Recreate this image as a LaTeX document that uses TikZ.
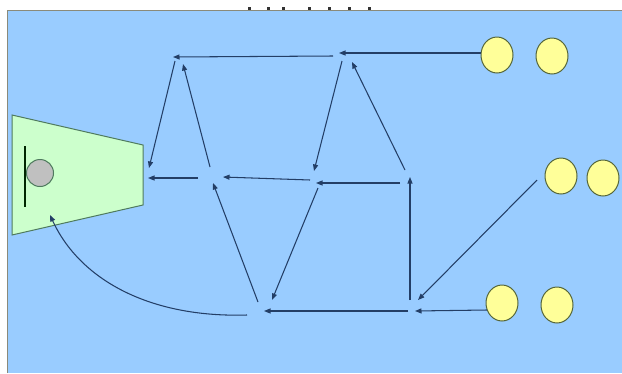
\documentclass[tikz,border=0pt]{standalone}
\usetikzlibrary{arrows.meta,shapes.geometric}
\definecolor{bgblue}{HTML}{99CCFF}
\definecolor{trapfill}{HTML}{CCFFCC}
\definecolor{trapline}{HTML}{4F7A5E}
\definecolor{ballfill}{HTML}{FFFF99}
\definecolor{ballline}{HTML}{55663A}
\definecolor{greyball}{HTML}{C0C0C0}
\definecolor{arrowcol}{HTML}{233E66}
\definecolor{framecol}{HTML}{8A8A7A}
\tikzset{
  flow/.style={draw=arrowcol, line width=1.05pt, -{Triangle[length=6.5pt,width=5pt]}},
  ball/.style={ellipse, draw=ballline, line width=1pt, fill=ballfill, minimum width=32pt, minimum height=36pt, inner sep=0pt}
}
\begin{document}
\begin{tikzpicture}[x=1pt,y=-1pt]
\useasboundingbox (0,0) rectangle (622,373);
\fill[white] (0,0) rectangle (622,373);
% background
\fill[bgblue] (7,10) rectangle (622,373);
\draw[framecol, line width=1pt] (7,373) -- (7,10) -- (622,10);
% remnants at top
\foreach \xx in {249,268,283,309,329,349,369}
  \fill[black!80] (\xx-1.5,7) rectangle (\xx+1.5,9.5);
% trapezoid goal
\draw[trapline, line width=1pt, fill=trapfill] (12,115) -- (143,145) -- (143,205) -- (12,235) -- cycle;
\draw[black!85!green, line width=2.4pt] (25,146) -- (25,207);
\node[circle, draw=trapline, line width=1pt, fill=greyball, minimum size=27pt, inner sep=0pt] (gb) at (40,173) {};
% balls
\node[ball] (t1) at (497,55) {};
\node[ball] (t2) at (552,56) {};
\node[ball] (m1) at (561,176) {};
\node[ball] (m2) at (603,178) {};
\node[ball] (b1) at (502,303) {};
\node[ball] (b2) at (557,305) {};
% endpoint coordinates
\coordinate (t1out) at (481,53);
\coordinate (b1out) at (487,310);
\coordinate (p1tip) at (173,57);
\coordinate (p1up) at (183,64);
\coordinate (p1out) at (175,61);
\coordinate (p2tip) at (339,53);
\coordinate (p2out) at (333,56);
\coordinate (p2up) at (352,62);
\coordinate (p2down) at (342,61);
\coordinate (goalA) at (149,168);
\coordinate (goalB) at (148,178);
\coordinate (goalC) at (50,215);
\coordinate (m1out) at (198,178);
\coordinate (m1tip) at (223,177);
\coordinate (m1low) at (213,183);
\coordinate (m1up) at (210,167);
\coordinate (m2tip) at (314,171);
\coordinate (m2out) at (310,180);
\coordinate (m2in) at (316,183);
\coordinate (m2low) at (318,188);
\coordinate (m3out) at (400,183);
\coordinate (m3up) at (405,170);
\coordinate (m3tip) at (410,177);
\coordinate (b1tip) at (272,300);
\coordinate (b1up) at (258,302);
\coordinate (b1in) at (264,311);
\coordinate (b1curve) at (247,315);
\coordinate (b2out) at (408,311);
\coordinate (b2vert) at (410,300);
\coordinate (b2tip) at (415,311);
\coordinate (b2diag) at (418,300);
\coordinate (m1ball) at (537,180);
% connectors
\draw[flow] (t1out) -- (p2tip);
\draw[flow] (p2out) -- (p1tip);
\draw[flow] (p1out) -- (goalA);
\draw[flow] (m1up) -- (p1up);
\draw[flow] (p2down) -- (m2tip);
\draw[flow] (m3up) -- (p2up);
\draw[flow] (m2out) -- (m1tip);
\draw[flow] (m1out) -- (goalB);
\draw[flow] (m3out) -- (m2in);
\draw[flow] (b2vert) -- (m3tip);
\draw[flow] (m2low) -- (b1tip);
\draw[flow] (b1up) -- (m1low);
\draw[flow] (b2out) -- (b1in);
\draw[flow] (b1out) -- (b2tip);
\draw[flow] (m1ball) -- (b2diag);
\draw[flow] (b1curve) .. controls (150,318) and (80,280) .. (goalC);
\end{tikzpicture}
\end{document}
